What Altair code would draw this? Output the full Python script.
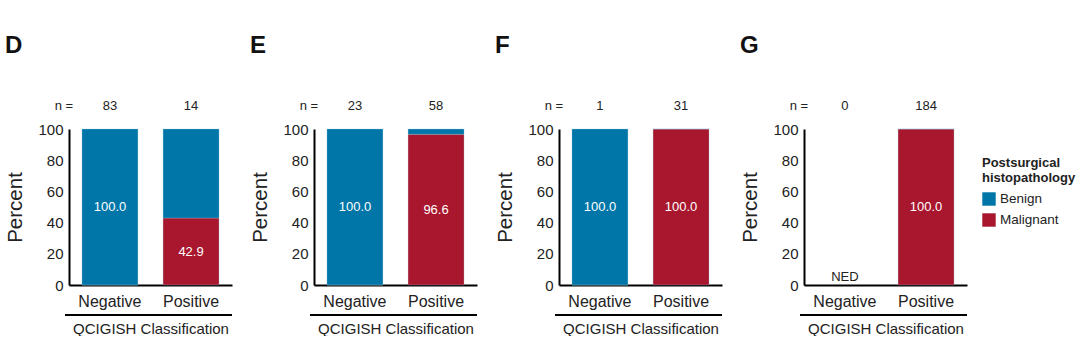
import altair as alt
import pandas as pd

# ---- data ----
panels = ["D", "E", "F", "G"]
classes = ["Negative", "Positive"]
n_negative = [83, 23, 1, 0]
n_positive = [14, 58, 31, 184]
# percent malignant within each QCIGISH class (None = no evaluable data, "NED")
malignant_negative = [0.0, 0.0, 0.0, None]
malignant_positive = [42.9, 96.6, 100.0, 100.0]
types = ["Benign", "Malignant"]
colors = ["#0076a8", "#a8172e"]
y_ticks = [0, 20, 40, 60, 80, 100]

FONT = "Liberation Sans"
W, H = 163, 156

X_AXIS = alt.Axis(title="QCIGISH Classification", labelAngle=0, ticks=False,
                  domainColor="black", domainWidth=2, labelFontSize=16,
                  labelColor="#222", labelPadding=8, titleFontSize=15,
                  titleFontWeight="normal", titleColor="#222",
                  titlePadding=12, labelFont=FONT, titleFont=FONT)
Y_AXIS = alt.Axis(title="Percent", values=y_ticks, ticks=False,
                  grid=False, domainColor="black", domainWidth=2,
                  labelOverlap=False, labelFlush=False,
                  labelFontSize=15, labelColor="#222", labelPadding=6,
                  titleFontSize=20.5, titleFontWeight="normal", titleColor="#222",
                  titlePadding=12, labelFont=FONT, titleFont=FONT)


def panel(i):
    name = panels[i]
    mal = [malignant_negative[i], malignant_positive[i]]
    ns = [n_negative[i], n_positive[i]]
    seg_rows, lab_rows, ned_rows = [], [], []
    for c, m in zip(classes, mal):
        if m is None:
            ned_rows.append({"cls": c, "txt": "NED", "y": 0})
            continue
        b = 100.0 - m
        seg_rows.append({"cls": c, "type": "Malignant", "y0": 0.0, "y1": m})
        seg_rows.append({"cls": c, "type": "Benign", "y0": m, "y1": 100.0})
        if c == "Negative":
            lab_rows.append({"cls": c, "txt": f"{b:.1f}", "mid": m + b / 2})
        else:
            lab_rows.append({"cls": c, "txt": f"{m:.1f}", "mid": m / 2})
    seg = pd.DataFrame(seg_rows)
    lab = pd.DataFrame(lab_rows)
    nd = pd.DataFrame({"cls": classes, "n": [str(v) for v in ns]})

    xscale = alt.Scale(domain=classes, paddingInner=0.31, paddingOuter=0.16)
    yscale = alt.Scale(domain=[0, 100])

    def X():
        return alt.X("cls:N", scale=xscale, sort=classes, axis=X_AXIS)

    bars = alt.Chart(seg).mark_bar(stroke="#9ccbe0", strokeWidth=0.3).encode(
        x=X(),
        y=alt.Y("y0:Q", scale=yscale, axis=Y_AXIS),
        y2="y1:Q",
        color=alt.Color("type:N", scale=alt.Scale(domain=types, range=colors),
                        legend=alt.Legend(title=["Postsurgical", "histopathology"],
                                          orient="none", legendX=913, legendY=28,
                                          symbolType="square", symbolSize=180,
                                          symbolStrokeWidth=0, titleFontSize=13,
                                          titleFontWeight="bold", labelFontSize=13.5,
                                          titleFont=FONT, labelFont=FONT,
                                          titleColor="#222", labelColor="#222",
                                          rowPadding=7, titlePadding=7)),
    )
    layers = [bars]
    if len(lab):
        layers.append(alt.Chart(lab).mark_text(color="white", fontSize=13, font=FONT).encode(
            x=X(),
            y=alt.Y("mid:Q", scale=yscale, axis=Y_AXIS),
            text="txt:N"))
    if ned_rows:
        layers.append(alt.Chart(pd.DataFrame(ned_rows)).mark_text(
            color="#222", fontSize=13, font=FONT, baseline="alphabetic", dy=-4).encode(
            x=X(),
            y=alt.Y("y:Q", scale=yscale, axis=Y_AXIS),
            text="txt:N"))
    layers.append(alt.Chart(nd).mark_text(color="#222", fontSize=13, font=FONT).encode(
        x=X(),
        y=alt.value(-23),
        text="n:N"))
    layers.append(alt.Chart(pd.DataFrame({"t": ["n ="]})).mark_text(
        color="#222", fontSize=13, font=FONT).encode(
        x=alt.value(-5), y=alt.value(-23), text="t:N"))
    layers.append(alt.Chart(pd.DataFrame({"a": [0]})).mark_rule(color="black", strokeWidth=2).encode(
        x=alt.value(-4), x2=alt.value(W), y=alt.value(186)))
    return alt.layer(*layers).properties(
        width=W, height=H,
        title=alt.TitleParams(text=name, anchor="start", fontSize=24, fontWeight="bold",
                              font=FONT, color="#111", offset=42, dx=-1))


chart = alt.hconcat(*[panel(i) for i in range(4)], spacing=16).properties(
    padding={"left": 4, "top": 34, "right": 0, "bottom": 0}
).configure_view(stroke=None).configure_axis(labelOverlap=False)

chart.save("out.html", embed_options={"renderer": "svg", "actions": False})
